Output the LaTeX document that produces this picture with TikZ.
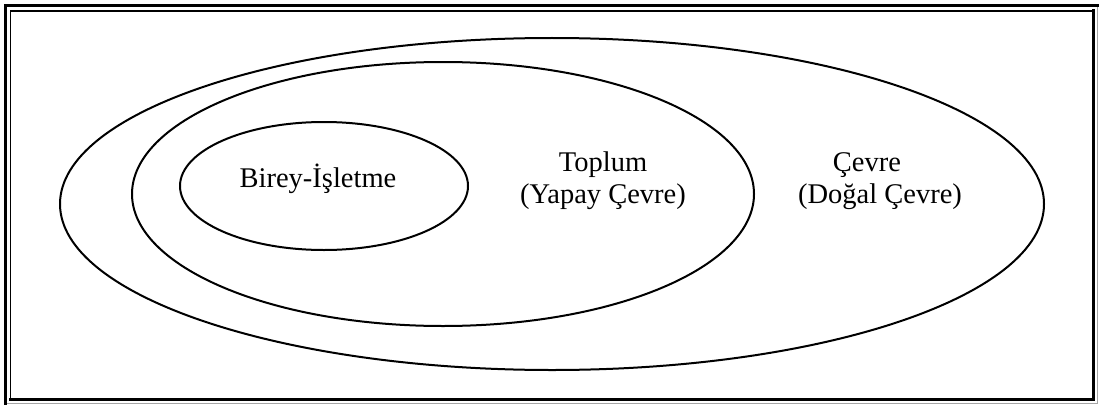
\documentclass[tikz,border=0pt]{standalone}
\usepackage{fontspec}
\setmainfont{Liberation Serif}
\usetikzlibrary{shapes.geometric}
\begin{document}
\begin{tikzpicture}[x=1pt,y=-1pt,
  ring/.style={draw=black, line width=2pt, ellipse, inner sep=0pt},
  label/.style={anchor=base, inner sep=0pt, font=\fontsize{28.5}{32}\selectfont}]
  \useasboundingbox (0,0) rectangle (1099,404);
  % double page border: thick-thin frame
  \draw[line width=1pt, gray!70] (5.5,5.5) rectangle (1097,403);
  \draw[line width=3pt, line cap=rect] (5.5,403) -- (5.5,5.5) -- (1097,5.5);
  \draw[line width=1.5pt] (10.5,11) rectangle (1093.5,399);
  \draw[line width=3pt, line cap=rect] (10.5,399) -- (1093.5,399) -- (1093.5,11);
  % nested ellipses
  \node[ring, minimum width=984pt, minimum height=332pt] (cevre) at (552,204) {};
  \node[ring, minimum width=622pt, minimum height=264pt] (toplum) at (443,194) {};
  \node[ring, minimum width=288pt, minimum height=128pt] (birey) at (324,186) {};
  % labels
  \node[label] (tb) at (318,187) {Birey-İşletme};
  \node[label] (tt1) at (603,171) {Toplum};
  \node[label] (tt2) at (603,203) {(Yapay Çevre)};
  \node[label] (tc1) at (867,171) {Çevre};
  \node[label] (tc2) at (880,203) {(Doğal Çevre)};
\end{tikzpicture}
\end{document}
